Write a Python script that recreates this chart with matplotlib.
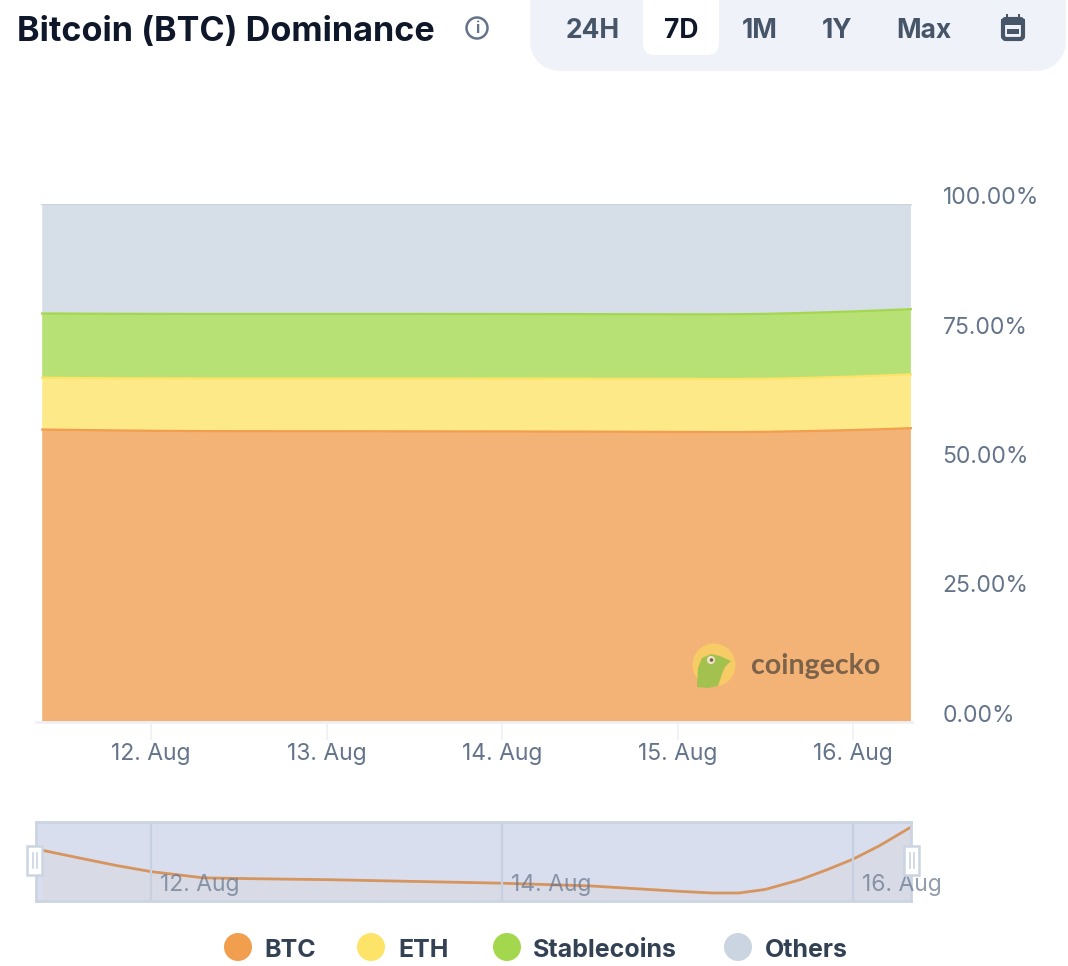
import matplotlib
matplotlib.use('Agg')
import matplotlib.pyplot as plt
import numpy as np
from matplotlib.patches import Circle, FancyBboxPatch, Polygon, Rectangle

W, H = 1068, 966
plt.rcParams['font.family'] = ['Inter', 'DejaVu Sans']

# Day of August for each sample
days = [11.38, 11.6, 11.8, 12.0, 12.3, 12.6, 13.0, 13.5, 14.0, 14.5, 15.0, 15.2, 15.35, 15.5, 15.7, 15.85, 16.0, 16.15, 16.33]
# Shares, in percent
btc = [56.46, 56.37, 56.29, 56.22, 56.15, 56.14, 56.13, 56.11, 56.09, 56.06, 56.00, 55.98, 55.98, 56.02, 56.13, 56.24, 56.36, 56.51, 56.72]
eth = [10.0, 10.04, 10.08, 10.12, 10.17, 10.18, 10.19, 10.2, 10.21, 10.22, 10.24, 10.25, 10.25, 10.24, 10.27, 10.3, 10.33, 10.36, 10.4]
stable = [12.4, 12.42, 12.43, 12.44, 12.45, 12.45, 12.45, 12.46, 12.46, 12.46, 12.47, 12.48, 12.5, 12.52, 12.55, 12.56, 12.57, 12.58, 12.58]
others = [100 - a - b - c for a, b, c in zip(btc, eth, stable)]

names = ['BTC', 'ETH', 'Stablecoins', 'Others']
colors = ['#f19e4f', '#fde367', '#a3d84e', '#cbd5e1']
date_ticks = [12, 13, 14, 15, 16]
date_labels = ['12. Aug', '13. Aug', '14. Aug', '15. Aug', '16. Aug']
nav_ticks = [12, 14, 16]
nav_labels = ['12. Aug', '14. Aug', '16. Aug']
y_ticks = [0, 25, 50, 75, 100]
y_labels = ['0.00%', '25.00%', '50.00%', '75.00%', '100.00%']
ranges = ['24H', '7D', '1M', '1Y', 'Max']

x0_day = 12 - (151 - 36) / 175.5
x1_day = 16 + (912 - 853) / 175.5


def px_axes(left, top, right, bottom, **kw):
    return fig.add_axes([left / W, 1 - bottom / H, (right - left) / W, (bottom - top) / H], **kw)


fig = plt.figure(figsize=(W / 100, H / 100), dpi=100, facecolor='white')

# page chrome, in pixels
bg = fig.add_axes([0, 0, 1, 1])
bg.set_xlim(0, W)
bg.set_ylim(H, 0)
bg.axis('off')

bg.text(17, 41, 'Bitcoin (BTC) Dominance', fontsize=24.6, fontweight='bold', color='#0f172a', va='baseline')
bg.add_patch(Circle((477, 28), 10.5, fc='white', ec='#64748b', lw=1.8))
bg.text(477, 28.5, 'i', fontsize=11, fontweight='bold', color='#64748b', ha='center', va='center')

bg.add_patch(FancyBboxPatch((558, -40), 480, 83, boxstyle='round,pad=0,rounding_size=1', fc='#eff2f8', ec='#eff2f8', lw=40, joinstyle='round'))
bg.add_patch(FancyBboxPatch((657, -20), 48, 61, boxstyle='round,pad=0,rounding_size=14', fc='#dfe3ea', ec='none'))
bg.add_patch(FancyBboxPatch((655, -20), 52, 63, boxstyle='round,pad=12,rounding_size=12', fc='#ffffff', ec='none'))
for label, cx in zip(ranges, [593, 681, 760, 837, 924]):
    bg.text(cx, 38, label, fontsize=19, fontweight='bold', color='#0f172a' if label == '7D' else '#475569', ha='center', va='baseline')
bg.add_patch(FancyBboxPatch((1003, 19), 20, 20, boxstyle='round,pad=0,rounding_size=3', fc='#eff2f8', ec='#475569', lw=3))
bg.add_patch(Rectangle((1001, 19), 24, 6, fc='#475569', ec='none'))
bg.add_patch(Rectangle((1007, 29), 12, 5, fc='#475569', ec='none'))
bg.add_patch(Rectangle((1006, 14), 2, 5, fc='#475569', ec='none'))
bg.add_patch(Rectangle((1018, 14), 2, 5, fc='#475569', ec='none'))

# main stacked chart
ax = px_axes(36, 204, 912, 722)
ax.stackplot(days, btc, eth, stable, others, colors=colors, alpha=0.78, linewidth=0)
tops = np.cumsum([btc, eth, stable, others], axis=0)
for top, c in zip(tops, colors):
    ax.plot(days, top, color=c, lw=1.6)
ax.set_xlim(x0_day, x1_day)
ax.set_ylim(0, 100)
ax.set_xticks(date_ticks, date_labels)
ax.set_yticks(y_ticks, y_labels)
ax.yaxis.tick_right()
ax.tick_params(axis='x', length=13, width=1.2, color='#eef0f5', labelcolor='#64748b', labelsize=16.5, pad=2)
ax.tick_params(axis='y', length=0, labelcolor='#64748b', labelsize=16.5, pad=22)
for lab in ax.get_yticklabels():
    lab.set_va('baseline')
for s in ['top', 'left', 'right']:
    ax.spines[s].set_visible(False)
ax.spines['bottom'].set_color('#eef0f5')
ax.spines['bottom'].set_linewidth(2)
ax.set_facecolor('#d8dfe9')
ax.patch.set_alpha(0)

# watermark
over = fig.add_axes([0, 0, 1, 1], zorder=5)
over.set_xlim(0, W)
over.set_ylim(H, 0)
over.axis('off')
over.add_patch(Circle((714, 665), 21.5, fc='#f7cb65', ec='none'))
over.add_patch(Polygon([(697, 687), (698, 668), (702, 658), (711, 654), (720, 656), (731, 661), (725, 667), (722, 674), (718, 686), (708, 688)], fc='#a3c14e', ec='none'))
over.add_patch(Circle((711, 660), 4, fc='#f3e6cf', ec='none'))
over.add_patch(Circle((711.5, 660), 1.8, fc='#7a5f48', ec='none'))
over.text(751, 674, 'coingecko', family=['Lato', 'DejaVu Sans'], fontsize=20.5, fontweight='bold', color='#7c6249', va='baseline')

# navigator
nav = px_axes(36, 822, 911, 901)
nav.set_facecolor('#d9deee')
nav.fill_between(days, btc, 55.4, color='#d8dbe6', lw=0)
nav.plot(days, btc, color='#d6945f', lw=2)
nav.set_xlim(x0_day, x0_day + 875 / 175.5)
nav.set_ylim(55.98 - 8 * 0.73 / 65, 55.98 + 71 * 0.73 / 65)
nav.set_xticks([])
nav.set_yticks([])
for t in nav_ticks:
    nav.axvline(t, color='#c6d0de', lw=1.6)
for s in nav.spines.values():
    s.set_color('#cbd5e1')
    s.set_linewidth(2)
for t, lab in zip(nav_ticks, nav_labels):
    nav.annotate(lab, (t, 0), xycoords=('data', 'axes fraction'), xytext=(9, 10), textcoords='offset pixels',
                 fontsize=16.5, color='#64748b', alpha=0.7, annotation_clip=False, zorder=5)

# navigator handles
over.add_patch(Rectangle((27, 846), 15, 29, fc='white', ec='#cbd5e1', lw=1.8))
over.add_patch(Rectangle((904, 846), 15, 29, fc='white', ec='#cbd5e1', lw=1.8))
for hx in (34.5, 911.5):
    over.plot([hx - 2, hx - 2], [853, 868], color='#cbd5e1', lw=1.2)
    over.plot([hx + 2, hx + 2], [853, 868], color='#cbd5e1', lw=1.2)

# legend
for name, c, cx, tx in zip(names, colors, [238, 371, 507, 738], [264, 398, 533, 765]):
    over.add_patch(Circle((cx, 947), 14, fc=c, ec='none'))
    over.text(tx, 957, name, fontsize=18, fontweight='bold', color='#334155', va='baseline')

fig.savefig('out.png', dpi=100)
